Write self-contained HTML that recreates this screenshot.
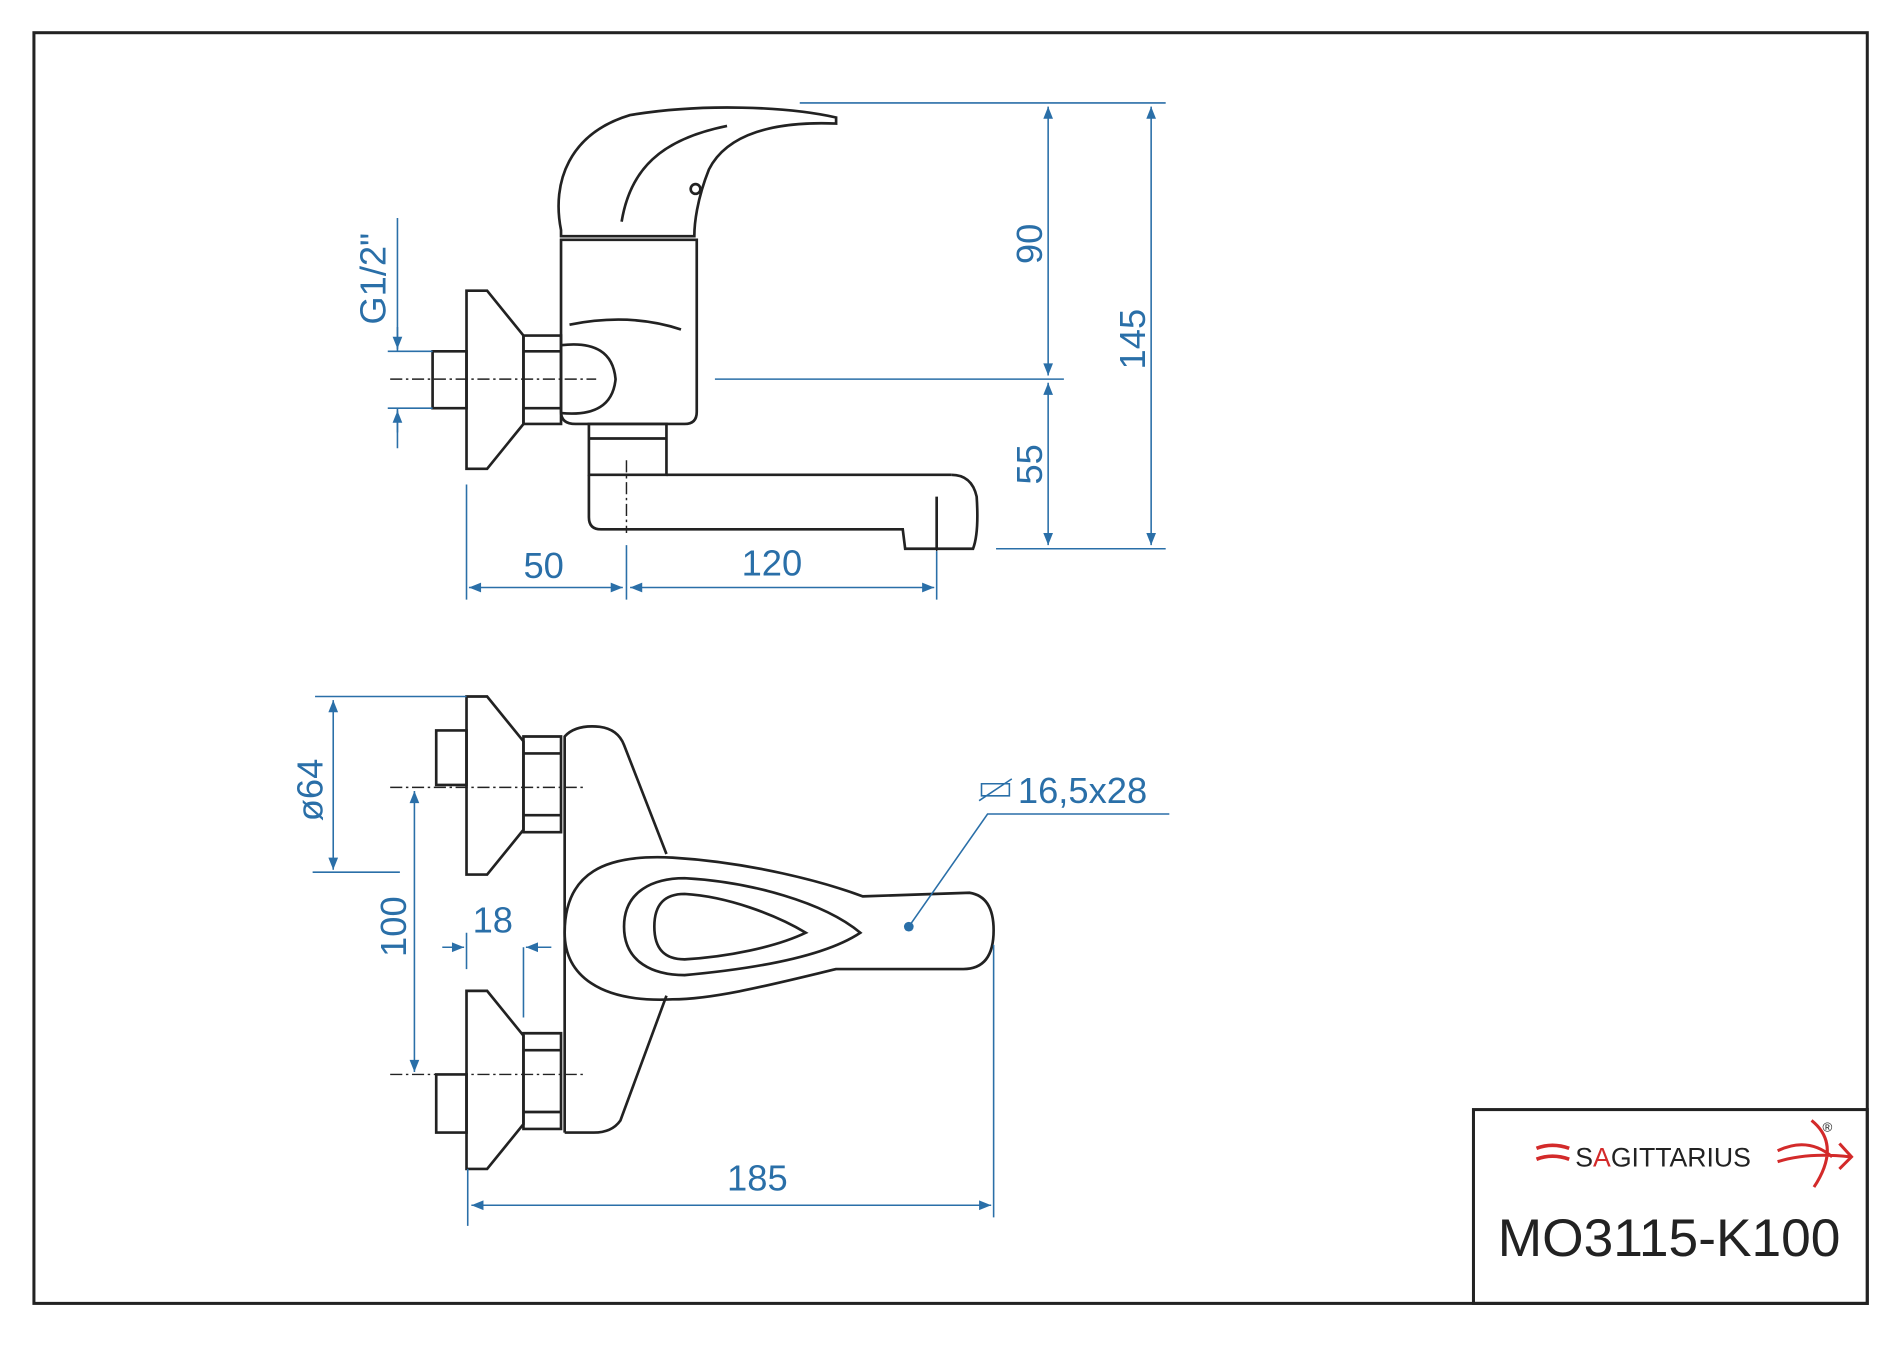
<!DOCTYPE html>
<html><head><meta charset="utf-8"><style>html,body{margin:0;padding:0;background:#fff}svg{display:block}</style></head><body>
<svg width="1900" height="1347" viewBox="0 0 1568 1112" preserveAspectRatio="none" xmlns="http://www.w3.org/2000/svg">
<defs>
<marker id="a" viewBox="0 0 10 10" refX="10" refY="5" markerWidth="14" markerHeight="10" markerUnits="userSpaceOnUse" orient="auto-start-reverse"><path d="M0,1 L10,5 L0,9 Z" fill="#2a6fa8"/></marker>
</defs>
<rect x="28" y="27" width="1513" height="1049" fill="none" stroke="#222" stroke-width="2.5"/>
<rect x="1216" y="916" width="325" height="160" fill="none" stroke="#222" stroke-width="2.5"/>
<text x="1300" y="963" font-family="Liberation Sans,sans-serif" font-size="22" fill="#222">S<tspan fill="#d32a2a">A</tspan>GITTARIUS</text>
<path d="M1268,948 q13,-5 27,0 M1268,957 q13,-5 27,0" stroke="#d32a2a" stroke-width="3" fill="none"/>
<path d="M1467,950 q25,-12 45,5 M1467,959 q25,-8 60,-4 M1518,944 l10,11 l-10,10 M1495,925 q25,20 2,55" stroke="#d32a2a" stroke-width="2.5" fill="none"/>
<text x="1504" y="934" font-family="Liberation Sans,sans-serif" font-size="11" fill="#222">®</text>
<text x="1236" y="1037" font-family="Liberation Sans,sans-serif" font-size="44" fill="#222">MO3115-K100</text>

<g fill="none" stroke="#222" stroke-width="2.2">
<path d="M463,190 C455,150 470,110 520,95 C580,85 650,88 690,97 L690,102 C640,100 600,110 585,140 C575,165 573,185 573,195 L463,195 Z"/>
<path d="M513,183 C520,140 545,115 600,104"/>
<circle cx="574" cy="156" r="4"/>
<path d="M463,198 L575,198 L575,340 Q575,350 565,350 L475,350 Q463,350 463,340 Z"/>
<path d="M470,268 Q520,258 562,272"/>
<path d="M385,240 L402,240 L432,277 L432,350 L402,387 L385,387 Z"/>
<path d="M432,277 L463,277 L463,350 L432,350 Z M432,290 L463,290 M432,337 L463,337"/>
<path d="M357,290 L385,290 L385,337 L357,337 Z"/>
<path d="M463,285 Q505,280 508,313 Q505,345 463,341"/>
<path d="M486,350 L550,350 L550,392 L486,392 Z M486,362 L550,362"/>
<path d="M486,392 L486,427 Q486,437 496,437 L745,437 L747,453 L803,453 Q808,440 806,410 Q802,392 785,392"/>
<path d="M550,392 L785,392 M773,410 L773,453"/>
<path d="M385,575 L402,575 L432,612 L432,685 L402,722 L385,722 Z"/>
<path d="M385,818 L402,818 L432,855 L432,928 L402,965 L385,965 Z"/>
<path d="M432,608 L463,608 L463,687 L432,687 Z M432,622 L463,622 M432,673 L463,673"/>
<path d="M432,853 L463,853 L463,932 L432,932 Z M432,867 L463,867 M432,918 L463,918"/>
<path d="M360,603 L385,603 L385,648 L360,648 Z M360,887 L385,887 L385,935 L360,935 Z"/>
<path d="M466,935 L466,608 Q475,598 495,600 Q510,602 515,615 L550,705"/>
<path d="M550,822 L512,925 Q505,935 490,935 L466,935"/>
<path d="M466,770 C466,720 500,705 555,708 C620,712 680,728 712,740 L800,737 Q820,740 820,768 Q820,800 795,800 L690,800 C640,812 590,825 555,825 C495,828 466,805 466,770 Z"/>
<path d="M515,765 C515,735 540,725 565,725 C620,728 680,745 710,770 C680,790 620,800 565,805 C540,805 515,795 515,765 Z"/>
<path d="M540,765 C540,745 550,738 565,738 C600,740 640,755 665,770 C640,782 600,790 565,792 C550,792 540,785 540,765 Z"/>
</g>
<g stroke="#222" stroke-width="1.2" stroke-dasharray="10,3,2,3" fill="none">
<path d="M322,313 L492,313 M517,380 L517,440 M773,412 L773,455 M322,650 L482,650 M322,887 L482,887"/>
</g>
<g stroke="#2a6fa8" stroke-width="1.3" fill="none">
<path d="M660,85 L962,85 M590,313 L878,313 M822,453 L962,453"/>
<path d="M865,88 L865,310" marker-start="url(#a)" marker-end="url(#a)"/>
<path d="M865,316 L865,450" marker-start="url(#a)" marker-end="url(#a)"/>
<path d="M950,88 L950,450" marker-start="url(#a)" marker-end="url(#a)"/>
<path d="M385,400 L385,495 M517,450 L517,495 M773,455 L773,495"/>
<path d="M387,485 L514,485" marker-start="url(#a)" marker-end="url(#a)"/>
<path d="M520,485 L771,485" marker-start="url(#a)" marker-end="url(#a)"/>
<path d="M320,290 L357,290 M320,337 L357,337 M328,180 L328,290 M328,337 L328,370"/>
<path d="M328,270 L328,288" marker-end="url(#a)"/><path d="M328,357 L328,339" marker-end="url(#a)"/>
<path d="M260,575 L385,575 M258,720 L330,720"/>
<path d="M275,578 L275,718" marker-start="url(#a)" marker-end="url(#a)"/>
<path d="M342,653 L342,885" marker-start="url(#a)" marker-end="url(#a)"/>
<path d="M385,770 L385,800 M432,782 L432,840"/>
<path d="M365,782 L383,782" marker-end="url(#a)"/><path d="M455,782 L434,782" marker-end="url(#a)"/>
<path d="M386,965 L386,1012 M820,780 L820,1005"/>
<path d="M389,995 L818,995" marker-start="url(#a)" marker-end="url(#a)"/>
<path d="M750,765 L815,672 L965,672"/>
<path d="M810,657 L833,657 L833,647 L810,647 Z M808,661 L835,643"/>
</g>
<circle cx="750" cy="765" r="4" fill="#2a6fa8"/>
<g font-family="Liberation Sans,sans-serif" font-size="30" fill="#2a6fa8">
<text x="432" y="477">50</text>
<text x="612" y="475">120</text>
<text x="600" y="983">185</text>
<text x="390" y="770">18</text>
<text x="840" y="663">16,5x28</text>
<text transform="translate(860,218) rotate(-90)">90</text>
<text transform="translate(860,400) rotate(-90)">55</text>
<text transform="translate(945,305) rotate(-90)">145</text>
<text transform="translate(318,268) rotate(-90)">G1/2"</text>
<text transform="translate(266,678) rotate(-90)">ø64</text>
<text transform="translate(335,790) rotate(-90)">100</text>
</g>
</svg>
</body></html>
